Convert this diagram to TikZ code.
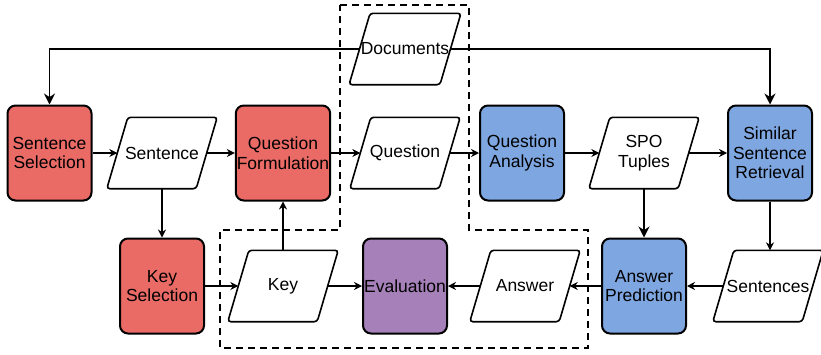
\documentclass[tikz,border=0pt]{standalone}
\usepackage{fontspec}
\setmainfont{Liberation Sans}
\usepackage{xcolor}
\usepackage{tikz}
\usetikzlibrary{arrows.meta}
\definecolor{stepred}{HTML}{EA6B66}
\definecolor{stepblue}{HTML}{7EA6E0}
\definecolor{steppurple}{HTML}{A680B8}

\begin{document}
\begin{tikzpicture}[x=1pt,y=-1pt,
    font=\fontsize{17.5}{19.5}\selectfont,
    proc/.style={draw,line width=2pt,rounded corners=8pt,minimum width=84pt,minimum height=95pt,align=center,inner sep=1pt},
    data/.style={minimum width=89pt,minimum height=71pt,align=center,inner sep=1pt},
    dataframe/.style={draw,line width=1.6pt,rounded corners=3pt},
    flow/.style={-{Stealth[length=8pt,width=8pt]},line width=1.2pt},
    mainflow/.style={-{Stealth[length=11pt,width=11pt]},line width=1.8pt}]
    \useasboundingbox (0,0) rectangle (821,354);
    % top row
    \node[proc,fill=stepred] (sentsel) at (49.5,153) {Sentence\\Selection};
    \node[data] (sentence) at (162,153) {Sentence};
    \node[proc,fill=stepred,minimum width=90pt] (qform) at (283,153) {Question\\Formulation};
    \node[data] (question) at (405,153) {Question};
    \node[proc,fill=stepblue] (qanal) at (522,153) {Question\\Analysis};
    \node[data] (spo) at (644,153) {SPO\\Tuples};
    \node[proc,fill=stepblue] (retrieve) at (770,153) {Similar\\Sentence\\Retrieval};
    \node[data] (docs) at (405,49) {Documents};
    % bottom row
    \node[proc,fill=stepred] (keysel) at (162,286) {Key\\Selection};
    \node[data] (key) at (283,286) {Key};
    \node[proc,fill=steppurple] (eval) at (405,286) {Evaluation};
    \node[data] (answer) at (525,286) {Answer};
    \node[proc,fill=stepblue] (predict) at (644,286) {Answer\\Prediction};
    \node[data] (sentences) at (768,286) {Sentences};
    % slanted frames of the data nodes
    \foreach \d in {docs,sentence,question,spo,key,answer,sentences}
        \draw[dataframe] ([xshift=10.5pt]\d.north west) -- ([xshift=10.5pt]\d.north east)
            -- ([xshift=-10.5pt]\d.south east) -- ([xshift=-10.5pt]\d.south west) -- cycle;
    % connectors
    \draw[mainflow] (docs.west) -| (sentsel.north);
    \draw[mainflow] (docs.east) -| (retrieve.north);
    \draw[flow] (sentsel) -- (sentence);
    \draw[flow] (sentence) -- (qform);
    \draw[flow] (qform) -- (question);
    \draw[flow] (question) -- (qanal);
    \draw[flow] (qanal) -- (spo);
    \draw[flow] (spo) -- (retrieve);
    \draw[flow] (sentence.south) -- (keysel.north);
    \draw[mainflow] (spo.south) -- (predict.north);
    \draw[flow] (retrieve.south) -- (retrieve.south |- sentences.north);
    \draw[flow] (sentences) -- (predict);
    \draw[flow] (predict) -- (answer);
    \draw[flow] (answer) -- (eval);
    \draw[flow] (keysel) -- (key);
    \draw[flow] (key) -- (eval);
    \draw[flow] (key.north) -- (qform.south);
    % dashed region
    \draw[line width=1.8pt,dash pattern=on 7pt off 5pt] (340,5) -- (469,5) -- (469,230) -- (588,230) -- (588,348) -- (220,348) -- (220,230) -- (340,230) -- cycle;
\end{tikzpicture}
\end{document}
